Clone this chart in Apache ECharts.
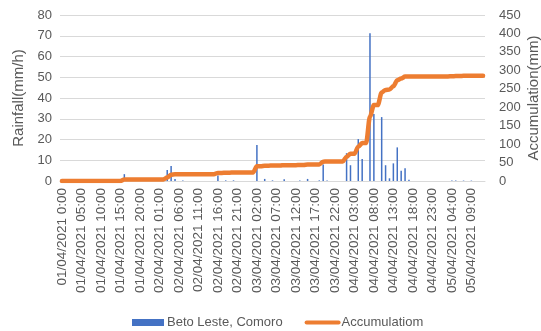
<!DOCTYPE html>
<html>
<head>
<meta charset="utf-8">
<script src="https://cdn.jsdelivr.net/npm/echarts@6/dist/echarts.min.js"></script>
<style>
  html, body { margin: 0; padding: 0; background: #ffffff; }
  #chart { width: 541px; height: 331px; }
</style>
</head>
<body>
<div id="chart"></div>
<script>
// Hourly categories: 01/04/2021 00:00 to 05/04/2021 12:00
const days = ['01/04/2021', '02/04/2021', '03/04/2021', '04/04/2021', '05/04/2021'];
const hoursCount = 109;
const categories = [];
for (let i = 0; i < hoursCount; i++) {
  const d = days[Math.floor(i / 24)];
  const h = i % 24;
  categories.push(i === 0 ? d + ' 0:00' : d + ' ' + String(h).padStart(2, '0') + ':00');
}

// Hourly rainfall, Beto Leste, Comoro (mm/h)
const rainfall = [
  0, 0, 0, 0, 0, 0, 0, 0, 0, 0,
  0, 0, 0, 0, 0, 0, 3.3, 0, 0, 0,
  0, 0, 0, 0, 0, 0, 0, 5.3, 7.2, 1.0,
  0, 0.3, 0, 0, 0, 0, 0, 0, 0, 0,
  2.7, 0, 0.3, 0, 0.3, 0, 0, 0, 0, 0,
  17.3, 0, 1.0, 0, 0.3, 0, 0, 0.8, 0, 0,
  0, 0.3, 0, 1.0, 0, 0, 0.3, 8.0, 0.3, 0,
  0, 0, 0, 13.4, 7.6, 0, 20.2, 10.6, 0, 71.2,
  32.3, 0, 30.8, 7.6, 1.3, 8.5, 16.2, 5.0, 6.2, 0.6,
  0, 0, 0, 0, 0, 0, 0, 0, 0, 0,
  0.3, 0.3, 0, 0.2, 0, 0.2, 0, 0, 0
];

// Accumulated rainfall (mm)
const accumulation = [
  0, 0, 0, 0, 0, 0, 0, 0, 0, 0,
  0, 0, 0, 0, 0, 0, 4, 4, 4, 4,
  4, 4, 4, 4, 4, 4, 4, 9.5, 17, 18,
  18, 18.5, 18.5, 18.5, 18.5, 18.5, 18.5, 18.5, 18.5, 18.5,
  22, 22, 22.5, 22.5, 23, 23, 23, 23, 23, 23,
  40, 40, 41.5, 41.5, 42, 42, 42, 43, 43, 43,
  43, 43.5, 43.5, 44.5, 44.5, 44.5, 45, 52.5, 53, 53,
  53, 53, 53, 66, 74, 74, 93, 103, 103, 175,
  206, 206, 240, 247, 248, 257, 273, 278, 283, 283.5,
  283.5, 283.5, 283.5, 283.5, 283.5, 283.5, 283.5, 283.5, 283.5, 283.5,
  284, 284.5, 284.5, 285, 285, 285.5, 285.5, 285.5, 285.5
];

const seriesNames = ['Beto Leste, Comoro', 'Accumulatiom'];
const axisNames = ['Rainfall(mm/h)', 'Accumulation(mm)'];

const FONT = 'Liberation Sans';
const TEXT = '#595959';
const GRID = '#D9D9D9';

const chart = echarts.init(document.getElementById('chart'), null, { renderer: 'canvas' });
chart.setOption({
  animation: false,
  backgroundColor: '#ffffff',
  textStyle: { fontFamily: FONT },
  grid: { left: 60, right: 56, top: 15, bottom: 150, containLabel: false, outerBoundsMode: 'none' },
  legend: {
    left: 127,
    top: 311,
    itemWidth: 32,
    itemHeight: 7,
    itemGap: 22,
    textStyle: { color: TEXT, fontSize: 13, fontFamily: FONT, padding: [0, 0, 0, -2] },
    data: [
      { name: seriesNames[0], icon: 'rect' },
      { name: seriesNames[1], itemStyle: { opacity: 0 }, lineStyle: { width: 4, cap: 'round' } }
    ]
  },
  xAxis: {
    type: 'category',
    data: categories,
    boundaryGap: true,
    axisLine: { lineStyle: { color: GRID, width: 1 } },
    axisTick: { show: false },
    axisLabel: {
      interval: 4,
      rotate: 90,
      margin: 7,
      color: TEXT,
      fontSize: 13.5,
      fontFamily: FONT
    }
  },
  yAxis: [
    {
      type: 'value',
      min: 0,
      max: 80,
      interval: 10,
      name: axisNames[0],
      nameLocation: 'middle',
      nameRotate: 90,
      nameGap: 33,
      nameTextStyle: { color: TEXT, fontSize: 15, fontFamily: FONT },
      axisLine: { show: false },
      axisTick: { show: false },
      axisLabel: { color: TEXT, fontSize: 13, fontFamily: FONT, margin: 8 },
      splitLine: { lineStyle: { color: GRID, width: 1 } }
    },
    {
      type: 'value',
      min: 0,
      max: 450,
      interval: 50,
      name: axisNames[1],
      nameLocation: 'middle',
      nameRotate: 90,
      nameGap: 41,
      nameMoveOverlap: false,
      nameTextStyle: { color: TEXT, fontSize: 15, fontFamily: FONT },
      axisLine: { show: false },
      axisTick: { show: false },
      axisLabel: { color: TEXT, fontSize: 13, fontFamily: FONT, margin: 14 },
      splitLine: { show: false }
    }
  ],
  series: [
    {
      name: seriesNames[0],
      type: 'bar',
      yAxisIndex: 0,
      data: rainfall,
      barWidth: 1.5,
      itemStyle: { color: '#4472C4' },
      z: 2
    },
    {
      name: seriesNames[1],
      type: 'line',
      yAxisIndex: 1,
      data: accumulation,
      symbol: 'none',
      smooth: 0.3,
      smoothMonotone: 'x',
      lineStyle: { color: '#ED7D31', width: 4.5, cap: 'round', join: 'round' },
      itemStyle: { color: '#ED7D31' },
      z: 3
    }
  ]
});
</script>
</body>
</html>
